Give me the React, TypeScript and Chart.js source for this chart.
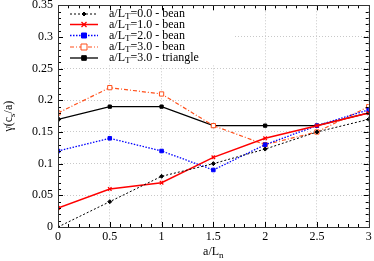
import React, { useEffect, useRef } from "react";
import { Chart, registerables } from "chart.js";

Chart.register(...registerables);

const xValues = [0, 0.5, 1, 1.5, 2, 2.5, 3];
const beanT0 = [0, 0.04, 0.08, 0.1, 0.123, 0.15, 0.17];
const beanT1 = [0.03, 0.06, 0.07, 0.11, 0.14, 0.16, 0.18];
const beanT2 = [0.12, 0.14, 0.12, 0.09, 0.13, 0.16, 0.185];
const beanT3 = [0.18, 0.22, 0.21, 0.16, 0.13, 0.15, 0.19];
const triT3 = [0.17, 0.19, 0.19, 0.16, 0.16, 0.16, 0.18];
const legendParts = ["0.0 - bean", "1.0 - bean", "2.0 - bean", "3.0 - bean", "3.0 - triangle"];

const FONT = "'Liberation Serif', 'DejaVu Serif', serif";

type Style = {
  color: string;
  dash: number[];
  width: number;
  marker: string;
  radius: number;
  fill: string;
};

const styles: Style[] = [
  { color: "#000000", dash: [2, 2], width: 1, marker: "rectRot", radius: 2, fill: "#000000" },
  { color: "#ff0000", dash: [], width: 1.5, marker: "crossRot", radius: 2.5, fill: "#ff0000" },
  { color: "#0000ff", dash: [1.5, 1.5], width: 1.3, marker: "rect", radius: 2.5, fill: "#0000ff" },
  { color: "#ff4f1a", dash: [4, 2, 1, 2], width: 1.2, marker: "rect", radius: 3, fill: "#ffffff" },
  { color: "#000000", dash: [], width: 1.3, marker: "rect", radius: 2.3, fill: "#000000" },
];

const seriesValues = [beanT0, beanT1, beanT2, beanT3, triT3];

function drawMarker(ctx: CanvasRenderingContext2D, s: Style, x: number, y: number) {
  ctx.save();
  ctx.setLineDash([]);
  ctx.strokeStyle = s.color;
  ctx.fillStyle = s.fill;
  ctx.lineWidth = 1;
  const r = s.radius;
  ctx.beginPath();
  if (s.marker === "rect") {
    ctx.rect(x - r, y - r, 2 * r, 2 * r);
    ctx.fill();
    ctx.stroke();
  } else if (s.marker === "rectRot") {
    ctx.moveTo(x, y - r);
    ctx.lineTo(x + r, y);
    ctx.lineTo(x, y + r);
    ctx.lineTo(x - r, y);
    ctx.closePath();
    ctx.fill();
    ctx.stroke();
  } else {
    ctx.lineWidth = 1.3;
    ctx.moveTo(x - r, y - r);
    ctx.lineTo(x + r, y + r);
    ctx.moveTo(x + r, y - r);
    ctx.lineTo(x - r, y + r);
    ctx.stroke();
  }
  ctx.restore();
}

const framePlugin = {
  id: "frame",
  afterDatasetsDraw(chart: any) {
    const ctx: CanvasRenderingContext2D = chart.ctx;
    const { left, right, top, bottom } = chart.chartArea;
    const xs = chart.scales.x;
    const ys = chart.scales.y;
    ctx.save();
    // legend box
    ctx.fillStyle = "#ffffff";
    ctx.fillRect(left + 1, top + 1, 174, 59);
    const rowY = [14, 24.5, 35.5, 47, 58];
    ctx.textBaseline = "middle";
    for (let i = 0; i < styles.length; i++) {
      const s = styles[i];
      const y = rowY[i];
      ctx.save();
      ctx.strokeStyle = s.color;
      ctx.lineWidth = s.width;
      ctx.setLineDash(s.dash);
      ctx.beginPath();
      ctx.moveTo(70, y);
      ctx.lineTo(98, y);
      ctx.stroke();
      ctx.restore();
      drawMarker(ctx, s, 84, y);
      ctx.fillStyle = "#000";
      let tx = 109;
      ctx.font = `12px ${FONT}`;
      ctx.fillText("a/L", tx, y);
      tx += ctx.measureText("a/L").width;
      ctx.font = `9px ${FONT}`;
      ctx.fillText("T", tx, y + 3);
      tx += ctx.measureText("T").width;
      ctx.font = `12px ${FONT}`;
      ctx.fillText("=" + legendParts[i], tx, y);
    }
    // ticks
    ctx.strokeStyle = "#000";
    ctx.lineWidth = 1;
    ctx.beginPath();
    for (let k = 0; k <= 30; k++) {
      const v = k / 10;
      const px = Math.round(xs.getPixelForValue(v)) + 0.5;
      const len = k % 5 === 0 ? 5 : 3;
      ctx.moveTo(px, bottom);
      ctx.lineTo(px, bottom - len);
      ctx.moveTo(px, top);
      ctx.lineTo(px, top + len);
    }
    for (let k = 0; k <= 35; k++) {
      const v = k / 100;
      const py = Math.round(ys.getPixelForValue(v)) + 0.5;
      const len = k % 5 === 0 ? 5 : 3;
      ctx.moveTo(left, py);
      ctx.lineTo(left + len, py);
      ctx.moveTo(right, py);
      ctx.lineTo(right - len, py);
    }
    ctx.stroke();
    ctx.lineWidth = 1;
    ctx.strokeStyle = "#333";
    ctx.strokeRect(Math.round(left) + 0.5, Math.round(top) + 0.5, Math.round(right - left), Math.round(bottom - top));
    // axis titles
    ctx.fillStyle = "#000";
    ctx.textBaseline = "alphabetic";
    ctx.font = `12px ${FONT}`;
    const xt1 = "a/L";
    const w1 = ctx.measureText(xt1).width;
    ctx.font = `9px ${FONT}`;
    const w2 = ctx.measureText("n").width;
    const cx = (left + right) / 2;
    const sx = cx - (w1 + w2) / 2;
    ctx.font = `12px ${FONT}`;
    ctx.fillText(xt1, sx, 255);
    ctx.font = `9px ${FONT}`;
    ctx.fillText("n", sx + w1, 258);
    // y title
    ctx.save();
    ctx.translate(12, (top + bottom) / 2);
    ctx.rotate(-Math.PI / 2);
    ctx.font = `12px ${FONT}`;
    const p1 = "γ(c";
    const p3 = "/a)";
    const a1 = ctx.measureText(p1).width;
    const a3 = ctx.measureText(p3).width;
    ctx.font = `9px ${FONT}`;
    const a2 = ctx.measureText("s").width;
    const yx = -(a1 + a2 + a3) / 2;
    ctx.font = `12px ${FONT}`;
    ctx.fillText(p1, yx, 0);
    ctx.font = `9px ${FONT}`;
    ctx.fillText("s", yx + a1, 3);
    ctx.font = `12px ${FONT}`;
    ctx.fillText(p3, yx + a1 + a2, 0);
    ctx.restore();
    ctx.restore();
  },
};

const fmt = (v: any) => String(Math.round(Number(v) * 100) / 100);

export default function App() {
  const ref = useRef<HTMLCanvasElement>(null);
  useEffect(() => {
    const canvas = ref.current!;
    const datasets = seriesValues.map((vals, i) => {
      const s = styles[i];
      return {
        data: xValues.map((x, j) => ({ x, y: vals[j] })),
        borderColor: s.color,
        backgroundColor: s.fill,
        borderWidth: s.width,
        borderDash: s.dash,
        pointStyle: s.marker,
        pointRadius: s.radius,
        pointBorderColor: s.color,
        pointBackgroundColor: s.fill,
        pointBorderWidth: s.marker === "crossRot" ? 1.3 : 1,
        tension: 0,
        fill: false,
      };
    });
    const chart = new Chart(canvas, {
      type: "scatter",
      data: { datasets: datasets as any },
      options: {
        animation: false,
        responsive: false,
        showLine: true,
        devicePixelRatio: 1,
        layout: { padding: { left: 0, right: 3, top: 4, bottom: 0 } },
        plugins: { legend: { display: false }, tooltip: { enabled: false } },
        scales: {
          x: {
            type: "linear",
            min: 0,
            max: 3,
            afterFit: (s: any) => {
              s.height = 34;
              s.paddingLeft = 0;
              s.paddingRight = 0;
            },
            ticks: {
              stepSize: 0.5,
              padding: 3,
              color: "#000",
              font: { family: FONT, size: 12 },
              maxRotation: 0,
              callback: fmt,
            },
            grid: { color: "#c8c8c8", drawTicks: false, lineWidth: 1 },
            border: { display: false, dash: [1, 2] },
          },
          y: {
            type: "linear",
            min: 0,
            max: 0.35,
            afterFit: (s: any) => {
              s.width = 58;
              s.paddingTop = 0;
              s.paddingBottom = 0;
            },
            ticks: {
              stepSize: 0.05,
              padding: 5,
              color: "#000",
              font: { family: FONT, size: 12 },
              callback: fmt,
            },
            grid: { color: "#c8c8c8", drawTicks: false, lineWidth: 1 },
            border: { display: false, dash: [1, 2] },
          },
        },
      } as any,
      plugins: [framePlugin],
    });
    return () => chart.destroy();
  }, []);
  return (
    <div style={{ position: "fixed", left: 0, top: 0, width: 374, height: 261, background: "#fff" }}>
      <canvas ref={ref} width={374} height={261} style={{ width: 374, height: 261 }} />
    </div>
  );
}
